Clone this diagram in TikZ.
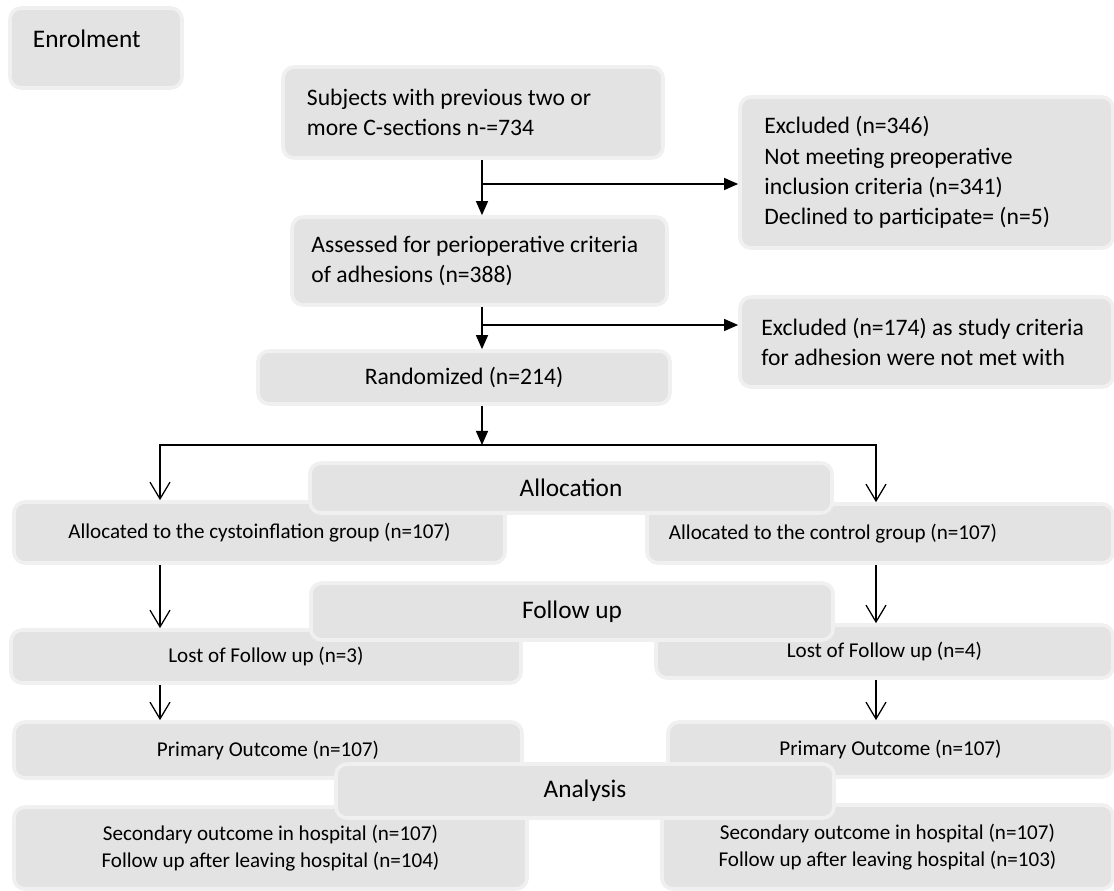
\documentclass[tikz,border=0pt]{standalone}
\usepackage{fontspec}
\setmainfont{Carlito}
\usepackage{xcolor}
\usetikzlibrary{arrows.meta}
\definecolor{boxfill}{RGB}{227,227,227}
\definecolor{boxedge}{RGB}{240,240,240}
\hyphenpenalty=10000

\begin{document}
\begin{tikzpicture}[x=0.025cm, y=-0.025cm,
    stagebox/.style={draw=boxedge, fill=boxfill, line width=2.6pt, rounded corners=0.28cm, inner sep=0pt},
    upper/.style={stagebox, font=\fontsize{16.8}{21.5}\selectfont, align=flush left},
    lower/.style={stagebox, font=\fontsize{15}{19}\selectfont, align=center},
    phase/.style={stagebox, font=\fontsize{18}{22}\selectfont},
    solidarrow/.style={-{Triangle[length=0.35cm, width=0.3cm]}, line width=0.9pt},
    openarrow/.style={-{Straight Barb[length=0.42cm, width=0.5cm]}, line width=0.9pt}]
    \useasboundingbox (0,0) rectangle (1114,891);
    \node[phase, align=flush left, text width=3.15cm, minimum width=4.3cm, text height=1cm, text depth=1cm] (enrol) at (96,48) {Enrolment};
    \node[upper, text width=8.3cm, minimum width=9.5cm, minimum height=2.275cm] (subj) at (473,112.5) {Subjects with previous two or\\more C-sections n-=734};
    \node[upper, text width=8.1cm, minimum width=9.325cm, minimum height=3.775cm] (excl1) at (926.5,172.5) {Excluded (n=346)\\Not meeting preoperative\\inclusion criteria (n=341)\\Declined to participate= (n=5)};
    \node[upper, text width=8.4cm, minimum width=9.375cm, minimum height=2.2cm] (assess) at (479.5,261) {Assessed for perioperative criteria\\of adhesions (n=388)};
    \node[upper, text width=8.25cm, minimum width=9.325cm, minimum height=2.25cm] (excl2) at (926.5,342) {Excluded (n=174) as study criteria\\for adhesion were not met with};
    \node[upper, align=center, minimum width=10.3cm, minimum height=1.325cm] (rand) at (464,377.5) {Randomized (n=214)};
    \node[lower, minimum width=12.275cm, minimum height=1.525cm] (allocL) at (259.5,532.5) {Allocated to the cystoinflation group (n=107)};
    \node[lower, align=flush left, text width=10.55cm, minimum width=11.65cm, minimum height=1.475cm] (allocR) at (880,533.5) {Allocated to the control group (n=107)};
    \node[lower, minimum width=12.75cm, minimum height=1.325cm] (lostL) at (266,656.5) {Lost of Follow up (n=3)};
    \node[lower, minimum width=11.425cm, minimum height=1.325cm] (lostR) at (884.5,651.5) {Lost of Follow up (n=4)};
    \node[lower, minimum width=12.7cm, minimum height=1.4cm] (primL) at (268,750) {Primary Outcome (n=107)};
    \node[lower, minimum width=11.125cm, minimum height=1.375cm] (primR) at (890.5,749.5) {Primary Outcome (n=107)};
    \node[lower, minimum width=12.825cm, minimum height=2.05cm] (secL) at (270.5,848) {Secondary outcome in hospital (n=107)\\Follow up after leaving hospital (n=104)};
    \node[lower, minimum width=11.275cm, minimum height=2.1cm] (secR) at (887.5,847) {Secondary outcome in hospital (n=107)\\Follow up after leaving hospital (n=103)};
    \node[phase, minimum width=13.05cm, minimum height=1.25cm] (allocph) at (571,488) {Allocation};
    \node[phase, minimum width=13.05cm, minimum height=1.425cm] (followph) at (572,611.5) {Follow up};
    \node[phase, minimum width=12.45cm, minimum height=1.35cm] (analysisph) at (585,791) {Analysis};
    \coordinate (trunk) at (482,0);
    \coordinate (lx) at (160,0);
    \coordinate (rx) at (876,0);
    \coordinate (side1) at (482,184);
    \coordinate (side2) at (482,325);
    \coordinate (split) at (482,445);
    \draw[solidarrow] (subj.south -| trunk) -- (assess.north -| trunk);
    \draw[solidarrow] (side1) -- (side1 -| excl1.west);
    \draw[solidarrow] (assess.south -| trunk) -- (rand.north -| trunk);
    \draw[solidarrow] (side2) -- (side2 -| excl2.west);
    \draw[solidarrow] (rand.south -| trunk) -- (split);
    \draw[openarrow] (split) -| (allocL.north -| lx);
    \draw[openarrow] (split) -| (allocR.north -| rx);
    \foreach \cx/\src/\dst in {lx/allocL/lostL, lx/lostL/primL, rx/allocR/lostR, rx/lostR/primR}
      \draw[openarrow] (\src.south -| \cx) -- (\dst.north -| \cx);
  \end{tikzpicture}
\end{document}
